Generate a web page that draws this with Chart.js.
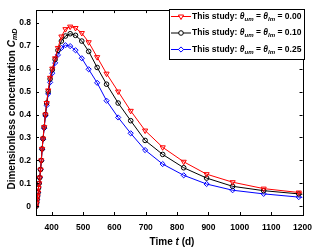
<!DOCTYPE html>
<html>
<head>
<script src="https://cdn.jsdelivr.net/npm/chart.js"></script>
<style>body{margin:0;background:#fff}</style>
</head>
<body>
<canvas id="myChart" width="320" height="251"></canvas>
<script>
// time (d) of each marker, shared by the three curves; 1200 is the line end (no marker)
var times = [350.5, 352, 353.5, 355, 356.5, 358, 360, 362, 364.5, 367, 369.5, 372.5, 376, 380, 384, 389, 395,
             402, 411, 420, 431, 444, 459, 476, 496, 518, 545, 575, 612, 652, 698, 754, 821, 894, 977, 1076, 1188, 1200];
var red   = [0, 0.015, 0.03, 0.045, 0.06, 0.08, 0.10, 0.125, 0.16, 0.20, 0.25, 0.295, 0.345, 0.40, 0.45, 0.505, 0.56,
             0.60, 0.645, 0.69, 0.74, 0.772, 0.783, 0.777, 0.755, 0.715, 0.65, 0.578, 0.50, 0.416, 0.33, 0.257, 0.194, 0.14, 0.105, 0.077, 0.06, 0.058];
var black = [0, 0.015, 0.03, 0.045, 0.06, 0.08, 0.10, 0.125, 0.16, 0.20, 0.25, 0.295, 0.345, 0.40, 0.45, 0.50, 0.555,
             0.595, 0.64, 0.68, 0.72, 0.742, 0.752, 0.745, 0.72, 0.675, 0.605, 0.532, 0.45, 0.373, 0.287, 0.226, 0.168, 0.123, 0.087, 0.068, 0.054, 0.052];
var blue  = [0, 0.015, 0.03, 0.045, 0.06, 0.08, 0.10, 0.125, 0.16, 0.20, 0.248, 0.292, 0.34, 0.395, 0.44, 0.49, 0.54,
             0.58, 0.625, 0.66, 0.69, 0.702, 0.698, 0.68, 0.645, 0.597, 0.538, 0.46, 0.387, 0.318, 0.245, 0.184, 0.135, 0.097, 0.07, 0.054, 0.04, 0.039];
var xTicks = [400, 500, 600, 700, 800, 900, 1000, 1100, 1200];
var yTicks = [0, 0.1, 0.2, 0.3, 0.4, 0.5, 0.6, 0.7, 0.8];
var legendValues = ['0.00', '0.10', '0.25'];

var FONT = '"Liberation Sans", Arial, sans-serif';

function pts(arr) {
    return times.map(function(t, i) { return {x: t, y: arr[i]}; });
}
function radii(r) {
    return times.map(function(t, i) { return i === times.length - 1 ? 0 : r; });
}

// draw a run of text pieces: [text, italic, subscript]
function drawRich(ctx, parts, x, y, size) {
    parts.forEach(function(p) {
        var s = p[2] ? size * 0.72 : size;
        ctx.font = (p[1] ? 'italic ' : '') + 'bold ' + s + 'px ' + FONT;
        ctx.fillText(p[0], x, y + (p[2] ? size * 0.3 : 0));
        x += ctx.measureText(p[0]).width;
    });
    return x;
}
function richWidth(ctx, parts, size) {
    var w = 0;
    parts.forEach(function(p) {
        var s = p[2] ? size * 0.72 : size;
        ctx.font = (p[1] ? 'italic ' : '') + 'bold ' + s + 'px ' + FONT;
        w += ctx.measureText(p[0]).width;
    });
    return w;
}

var frame = {
    id: 'frame',
    afterDraw: function(chart) {
        var ctx = chart.ctx, a = chart.chartArea;
        var xs = chart.scales.x, ys = chart.scales.y;
        ctx.save();
        ctx.strokeStyle = '#000';
        ctx.lineWidth = 1;
        ctx.strokeRect(Math.round(a.left) + 0.5, Math.round(a.top) + 0.5,
                       Math.round(a.right - a.left), Math.round(a.bottom - a.top));
        ctx.beginPath();
        xTicks.forEach(function(v) {
            var px = Math.round(xs.getPixelForValue(v)) + 0.5;
            ctx.moveTo(px, a.bottom); ctx.lineTo(px, a.bottom - 3);
            ctx.moveTo(px, a.top); ctx.lineTo(px, a.top + 3);
        });
        yTicks.forEach(function(v) {
            var py = Math.round(ys.getPixelForValue(v)) + 0.5;
            ctx.moveTo(a.left, py); ctx.lineTo(a.left + 3, py);
            ctx.moveTo(a.right, py); ctx.lineTo(a.right - 3, py);
        });
        ctx.stroke();

        // axis titles
        ctx.fillStyle = '#000';
        ctx.textBaseline = 'middle';
        var xt = [['Time ', false], ['t', true], [' (d)', false]];
        var w = richWidth(ctx, xt, 10);
        drawRich(ctx, xt, 172 - w / 2, 242, 10);

        var yt = [['Dimensionless concentration ', false], ['C', true], ['mD', true, true]];
        ctx.translate(12, 109);
        ctx.rotate(-Math.PI / 2);
        w = richWidth(ctx, yt, 10);
        drawRich(ctx, yt, -w / 2, 0, 10);
        ctx.restore();

        // legend box
        ctx.save();
        var bx = 169, by = 9, bw = 135, bh = 50;
        ctx.fillStyle = '#fff';
        ctx.fillRect(bx, by, bw, bh);
        ctx.strokeStyle = '#000';
        ctx.strokeRect(bx + 0.5, by + 0.5, bw, bh);
        ctx.textBaseline = 'middle';
        chart.data.datasets.forEach(function(ds, i) {
            var ly = 16.5 + i * 16.5;
            ctx.strokeStyle = ds.borderColor;
            ctx.lineWidth = 1;
            ctx.beginPath();
            ctx.moveTo(171, ly); ctx.lineTo(191, ly);
            ctx.stroke();
            ctx.fillStyle = '#fff';
            Chart.helpers.drawPoint(ctx, {pointStyle: ds.pointStyle, rotation: ds.pointRotation || 0,
                radius: ds.legendRadius, borderWidth: 1}, 181, ly);
            ctx.fillStyle = '#000';
            drawRich(ctx, [['This study: ', false], ['\u03B8', true], ['um', true, true], [' = ', false],
                           ['\u03B8', true], ['lm', true, true], [' = ' + legendValues[i], false]], 192, ly, 8.5);
        });
        ctx.restore();
    }
};

var ctx = document.getElementById('myChart').getContext('2d');
var chart = new Chart(ctx, {
    type: 'line',
    data: {
        datasets: [{
            data: pts(red),
            borderColor: '#ff0000',
            backgroundColor: 'rgba(0,0,0,0)',
            borderWidth: 1,
            pointStyle: 'triangle',
            pointRotation: 180,
            pointRadius: radii(3),
            legendRadius: 3,
            pointBorderWidth: 1
        }, {
            data: pts(black),
            borderColor: '#000000',
            backgroundColor: 'rgba(0,0,0,0)',
            borderWidth: 1,
            pointStyle: 'circle',
            pointRadius: radii(2.3),
            legendRadius: 2.3,
            pointBorderWidth: 1
        }, {
            data: pts(blue),
            borderColor: '#0000ff',
            backgroundColor: 'rgba(0,0,0,0)',
            borderWidth: 1,
            pointStyle: 'rectRot',
            pointRadius: radii(2.6),
            legendRadius: 2.6,
            pointBorderWidth: 1
        }]
    },
    options: {
        responsive: false,
        animation: false,
        events: [],
        layout: {padding: {left: 0, right: 13, top: 3, bottom: 0}},
        plugins: {legend: {display: false}, tooltip: {enabled: false}},
        scales: {
            x: {
                type: 'linear',
                min: 350,
                max: 1200,
                afterBuildTicks: function(s) { s.ticks = xTicks.map(function(v) { return {value: v}; }); },
                afterFit: function(s) { s.height = 36; },
                grid: {display: false, drawTicks: false},
                border: {display: false},
                ticks: {
                    padding: 8,
                    color: '#000',
                    maxRotation: 0,
                    font: {family: FONT, size: 8.5, weight: 'bold'},
                    callback: function(v) { return String(v); }
                }
            },
            y: {
                min: -0.038,
                max: 0.855,
                afterBuildTicks: function(s) { s.ticks = yTicks.map(function(v) { return {value: v}; }); },
                afterFit: function(s) { s.width = 36; },
                grid: {display: false, drawTicks: false},
                border: {display: false},
                ticks: {
                    padding: 5,
                    color: '#000',
                    font: {family: FONT, size: 8.5, weight: 'bold'},
                    callback: function(v) { return v === 0 ? '0' : v.toFixed(1); }
                }
            }
        }
    },
    plugins: [frame]
});
</script>
</body>
</html>
